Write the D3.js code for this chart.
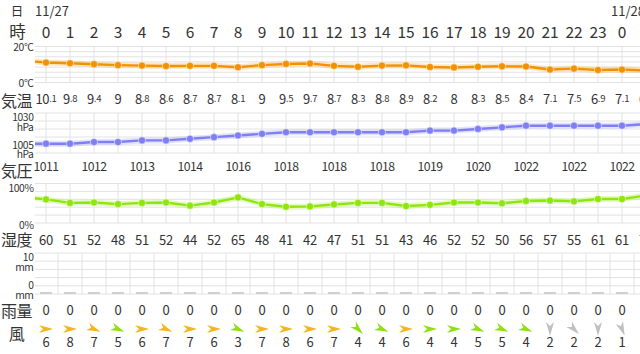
<!DOCTYPE html>
<html><head><meta charset="utf-8">
<script src="https://cdn.jsdelivr.net/npm/d3@7"></script>
<style>
body{margin:0;background:#fff;}
svg{display:block;font-family:"Noto Sans CJK JP","Noto Sans",sans-serif;}
</style>
</head><body>
<svg id="c" width="640" height="354"></svg>
<script>
// Column 0 is the last hour of the previous day (only its line segment is visible)
const hours = ["23","0","1","2","3","4","5","6","7","8","9","10","11","12","13","14","15","16","17","18","19","20","21","22","23","0","1"];
const days = ["11/27","11/28"];
const dayStart = [1, 25];
const temps = [11.0,10.1,9.8,9.4,9,8.8,8.6,8.7,8.7,8.1,9,9.5,9.7,8.7,8.3,8.8,8.9,8.2,8,8.3,8.5,8.4,7.1,7.5,6.9,7.1,6.7];
const pressures = [1011,1011,1011,1012,1012,1013,1013,1014,1015,1016,1017,1018,1018,1018,1018,1018,1018,1019,1019,1020,1021,1022,1022,1022,1022,1022,1023];
const humidity = [66,60,51,52,48,51,52,44,52,65,48,41,42,47,51,51,43,46,52,52,50,56,57,55,61,61,70];
const rain = [0,0,0,0,0,0,0,0,0,0,0,0,0,0,0,0,0,0,0,0,0,0,0,0,0,0,0];
const windSpeed = [6,6,8,7,5,6,7,7,6,3,7,8,6,7,4,4,6,4,4,5,5,4,2,2,2,1,1];
const windDir = ["西","西","西","西北西","西北西","西","西北西","西","西","西北西","西","西","西","西","北西","西北西","西","西","西","西北西","西北西","西北西","北","北西","北","北北西","北"];
const tempTicks = ["20°C","0°C"];
const presTicks = ["1030","1005"];
const humTicks = ["100%","0%"];
const rainTicks = ["10","0"];

const dirDeg = {"北":0,"北北東":22.5,"北東":45,"東北東":67.5,"東":90,"東南東":112.5,"南東":135,"南南東":157.5,"南":180,"南南西":202.5,"南西":225,"西南西":247.5,"西":270,"西北西":292.5,"北西":315,"北北西":337.5};

const svg = d3.select("#c");
const idx = d3.range(hours.length);
const x = d3.scaleLinear().domain([0, 1]).range([22, 46]);
const W = 640, L = 35;
const txt = "#333", grid = "#e2e2e2";

svg.append("defs").append("clipPath").attr("id","clip")
  .append("rect").attr("x",L).attr("y",0).attr("width",W-L).attr("height",354);

const tempY = d3.scaleLinear().domain([0,20]).range([86.1,39.5]);
const presY = d3.scaleLinear().domain([1005,1030]).range([153.5,112.6]);
const humY = d3.scaleLinear().domain([0,100]).range([222.8,183.8]);
const rainY = d3.scaleLinear().domain([0,10]).range([294,253]);

const g = svg.append("g").attr("clip-path","url(#clip)");

function band(y0, y1, n, vAt) {
  const gg = g.append("g");
  for (let k=0;k<=n;k++){
    const yy = y0 + (y1-y0)*k/n;
    gg.append("line").attr("x1",L).attr("x2",W).attr("y1",yy).attr("y2",yy)
      .attr("stroke",grid).attr("stroke-width",1);
  }
  idx.forEach(i=>{
    const xx = x(i)+vAt;
    gg.append("line").attr("x1",xx).attr("x2",xx).attr("y1",y0).attr("y2",y1)
      .attr("stroke",grid).attr("stroke-width",1);
  });
}
band(46.5, 82.5, 7, 0);
band(113, 153, 5, 0);
band(183.5, 223, 5, 0);
band(253, 294, 5, 12);

function series(vals, yScale, color) {
  const line = d3.line().x((d,i)=>x(i)).y(d=>yScale(d));
  g.append("path").datum(vals).attr("d",line).attr("fill","none")
    .attr("stroke",color).attr("stroke-opacity",0.22).attr("stroke-width",6);
  g.append("path").datum(vals).attr("d",line).attr("fill","none")
    .attr("stroke",color).attr("stroke-width",2.4);
  g.selectAll(null).data(vals).join("circle")
    .attr("cx",(d,i)=>x(i)).attr("cy",d=>yScale(d)).attr("r",3.6)
    .attr("fill",color).attr("stroke","#fff").attr("stroke-opacity",0.5).attr("stroke-width",1);
}
series(temps, tempY, "#f39200");
series(pressures, presY, "#7f7ff5");
series(humidity, humY, "#8ee60a");

// rain bars
g.selectAll(null).data(rain).join("rect")
  .attr("x",(d,i)=>x(i)-6).attr("width",12)
  .attr("y",d=>rainY(d)-2).attr("height",d=>rainY(0)-rainY(d)+2)
  .attr("fill","#cfcfcf");

const vis = idx.filter(i=>i>=1);

// header
svg.append("text").attr("x",17).attr("y",10.5).attr("text-anchor","middle").attr("dominant-baseline","central")
  .attr("font-size",12.5).attr("fill",txt).text("日");
svg.append("text").attr("x",17.5).attr("y",31).attr("text-anchor","middle").attr("dominant-baseline","central")
  .attr("font-size",16.5).attr("fill",txt).text("時");
days.forEach((d,k)=>{
  svg.append("text").attr("x",x(dayStart[k])-11).attr("y",10.5).attr("dominant-baseline","central")
    .attr("font-size",13).attr("fill",txt).text(d);
});
svg.selectAll(null).data(vis).join("text")
  .attr("x",i=>x(i)).attr("y",31).attr("text-anchor","middle").attr("dominant-baseline","central")
  .attr("font-size",15.5).attr("fill",txt).text(i=>hours[i]);

// row labels
[["気温",100],["気圧",170],["湿度",239],["雨量",309.5],["風",332.5]].forEach(([t,y])=>{
  svg.append("text").attr("x",16.5).attr("y",y).attr("text-anchor","middle").attr("dominant-baseline","central")
    .attr("font-size",16).attr("fill",txt).attr("letter-spacing",-0.5).text(t);
});

// axis labels
function axLab(lines, ys) {
  lines.forEach((t,k)=>{
    svg.append("text").attr("x",33.5).attr("y",ys[k]).attr("text-anchor","end").attr("dominant-baseline","central")
      .attr("font-size",10.3).attr("fill",txt).attr("letter-spacing",-0.4).text(t);
  });
}
axLab([tempTicks[0]],[46.3]); axLab([tempTicks[1]],[82.7]);
axLab([presTicks[0],"hPa"],[116.7,126.3]); axLab([presTicks[1],"hPa"],[144,153.7]);
axLab([humTicks[0]],[187]); axLab([humTicks[1]],[224.3]);
axLab([rainTicks[0],"mm"],[256.3,266.7]); axLab([rainTicks[1],"mm"],[284.7,294.3]);

// temperature values (decimal part smaller)
const tt = svg.selectAll(null).data(vis).join("text")
  .attr("x",i=>x(i)).attr("y",97.5).attr("text-anchor","middle").attr("dominant-baseline","central")
  .attr("fill",txt).attr("letter-spacing",-0.3);
tt.each(function(i){
  const s = String(temps[i]).split(".");
  const t = d3.select(this);
  t.append("tspan").attr("font-size",13).text(s[0]);
  if (s[1]) t.append("tspan").attr("font-size",9.5).text("."+s[1]);
});

// pressure values every 2 hours
svg.selectAll(null).data(vis.filter(i=>(i-1)%2===0)).join("text")
  .attr("x",i=>x(i)).attr("y",166).attr("text-anchor","middle").attr("dominant-baseline","central")
  .attr("font-size",12.2).attr("fill",txt).attr("letter-spacing",-0.5).text(i=>pressures[i]);

// humidity values
svg.selectAll(null).data(vis).join("text")
  .attr("x",i=>x(i)).attr("y",239).attr("text-anchor","middle").attr("dominant-baseline","central")
  .attr("font-size",13).attr("fill",txt).attr("letter-spacing",-0.3).text(i=>humidity[i]);

// rain values
svg.selectAll(null).data(vis).join("text")
  .attr("x",i=>x(i)).attr("y",309).attr("text-anchor","middle").attr("dominant-baseline","central")
  .attr("font-size",13).attr("fill",txt).text(i=>rain[i]);

// wind
function windColor(s){ return s>=6 ? "#f6b51e" : (s>=3 ? "#8ee10e" : "#c0c0c0"); }
svg.selectAll(null).data(vis).join("path")
  .attr("d","M7,0 L-7,-4 L-3,0 L-7,4 Z")
  .attr("transform",i=>`translate(${x(i)},329) rotate(${dirDeg[windDir[i]]+180-90})`)
  .attr("fill",i=>windColor(windSpeed[i]));
svg.selectAll(null).data(vis).join("text")
  .attr("x",i=>x(i)).attr("y",341.7).attr("text-anchor","middle").attr("dominant-baseline","central")
  .attr("font-size",13).attr("fill",txt).text(i=>windSpeed[i]);
</script>
</body></html>
